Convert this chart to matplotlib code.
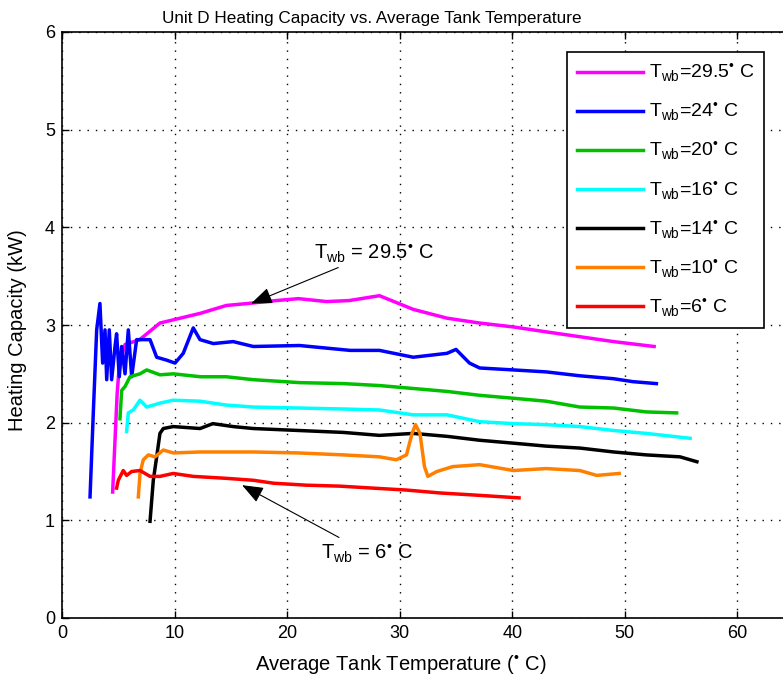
import matplotlib
matplotlib.use("Agg")
import matplotlib.pyplot as plt

plt.rcParams['font.family'] = ['Liberation Sans', 'DejaVu Sans']
plt.rcParams['mathtext.fontset'] = 'custom'
plt.rcParams['mathtext.rm'] = 'Liberation Sans'

# ---- data ----
x_295 = [4.5, 4.7, 4.9, 5.1, 5.6, 6.9, 8.7, 10.5, 12.3, 14.6, 16.5, 19.0, 21.0, 23.5, 25.5, 28.2,
         31.2, 34.2, 37.1, 40.1, 43.0, 46.0, 49.0, 52.6]
y_295 = [1.29, 1.8, 2.3, 2.6, 2.8, 2.85, 3.02, 3.07, 3.12, 3.20, 3.22, 3.25, 3.27, 3.24, 3.25, 3.30,
         3.16, 3.07, 3.02, 2.98, 2.93, 2.88, 2.83, 2.78]

x_24 = [2.49, 2.78, 3.08, 3.37, 3.61, 3.82, 3.97, 4.20, 4.41, 4.71, 4.85, 5.09, 5.30, 5.60, 5.89, 6.19,
        6.63, 7.82, 8.41, 9.30, 10.04, 10.77, 11.66, 12.26, 13.44, 15.21, 16.99, 21.1, 25.6, 28.2,
        31.2, 34.2, 35.0, 36.2, 37.1, 40.1, 43.0, 46.0, 49.0, 50.7, 52.8]
y_24 = [1.24, 2.10, 2.95, 3.22, 2.61, 2.95, 2.44, 2.95, 2.44, 2.78, 2.91, 2.47, 2.78, 2.50, 2.95, 2.47,
        2.85, 2.85, 2.67, 2.64, 2.61, 2.71, 2.97, 2.85, 2.81, 2.83, 2.78, 2.79, 2.74, 2.74,
        2.67, 2.71, 2.75, 2.61, 2.56, 2.54, 2.52, 2.48, 2.45, 2.42, 2.40]

x_20 = [5.15, 5.30, 5.6, 6.04, 6.93, 7.52, 8.7, 9.9, 12.3, 14.6, 17.0, 21.1, 25.0, 28.2, 31.2, 34.2,
        37.1, 40.1, 43.0, 46.0, 49.0, 51.9, 54.6]
y_20 = [2.04, 2.33, 2.37, 2.47, 2.50, 2.54, 2.49, 2.50, 2.47, 2.47, 2.44, 2.41, 2.40, 2.38, 2.35, 2.32,
        2.28, 2.25, 2.22, 2.16, 2.15, 2.11, 2.10]

x_16 = [5.74, 5.89, 6.33, 6.93, 7.52, 8.70, 9.88, 12.26, 14.6, 17.0, 21.0, 25.0, 28.2, 31.2, 34.2,
        37.1, 40.1, 43.0, 46.0, 49.0, 51.9, 55.8]
y_16 = [1.91, 2.10, 2.13, 2.23, 2.16, 2.20, 2.23, 2.22, 2.18, 2.16, 2.15, 2.14, 2.13, 2.08, 2.08,
        2.01, 1.99, 1.98, 1.96, 1.92, 1.89, 1.84]

x_14 = [7.82, 8.11, 8.41, 8.70, 9.0, 9.88, 12.26, 13.4, 15.2, 17.0, 21.0, 25.0, 28.2, 31.2, 34.2,
        37.1, 40.1, 43.0, 46.0, 49.0, 51.9, 54.9, 56.4]
y_14 = [0.99, 1.41, 1.65, 1.89, 1.94, 1.96, 1.94, 1.99, 1.96, 1.94, 1.92, 1.90, 1.87, 1.89, 1.86,
        1.82, 1.79, 1.76, 1.74, 1.70, 1.67, 1.65, 1.60]

x_10 = [6.78, 6.93, 7.22, 7.67, 8.26, 9.0, 9.88, 12.26, 14.6, 17.0, 21.0, 25.0, 28.2, 29.7, 30.6,
        31.1, 31.4, 31.8, 32.2, 32.5, 33.3, 34.7, 37.1, 40.1, 43.0, 46.0, 47.5, 49.5]
y_10 = [1.24, 1.48, 1.62, 1.67, 1.65, 1.72, 1.69, 1.70, 1.70, 1.70, 1.69, 1.67, 1.65, 1.62, 1.67,
        1.89, 1.98, 1.89, 1.55, 1.45, 1.50, 1.55, 1.57, 1.51, 1.53, 1.51, 1.46, 1.48]

x_6 = [4.85, 5.0, 5.44, 5.74, 6.19, 6.93, 7.82, 8.7, 9.88, 11.66, 14.6, 17.0, 18.8, 21.7, 24.7,
       27.6, 30.6, 33.6, 36.5, 40.6]
y_6 = [1.33, 1.41, 1.51, 1.46, 1.50, 1.51, 1.45, 1.45, 1.48, 1.45, 1.43, 1.41, 1.38, 1.36, 1.35,
       1.33, 1.31, 1.28, 1.26, 1.23]

series = [
    (x_295, y_295, '#ff00ff', '29.5'),
    (x_24, y_24, '#0000ff', '24'),
    (x_20, y_20, '#00c000', '20'),
    (x_16, y_16, '#00ffff', '16'),
    (x_14, y_14, '#000000', '14'),
    (x_10, y_10, '#ff8000', '10'),
    (x_6, y_6, '#ff0000', '6'),
]

xticks = [0, 10, 20, 30, 40, 50, 60]
yticks = [0, 1, 2, 3, 4, 5, 6]

DEG = '$^{\\mathregular{\u2022}}$'

W, H = 783, 681
fig = plt.figure(figsize=(W / 100, H / 100), dpi=100)
# axes in pixel coordinates: left 62, right 850 (cut off by the figure edge), top 32, bottom 618
ax = fig.add_axes([62 / W, (H - 618) / H, 788 / W, 586 / H])

for xs, ys, c, t in series:
    ax.plot(xs, ys, color=c, lw=2.5, label='T$_{\\mathregular{wb}}$=' + t + DEG + ' C')

ax.set_xlim(0, 70)
ax.set_ylim(0, 6)
ax.set_xticks(xticks)
ax.set_yticks(yticks)
ax.tick_params(direction='in', top=True, right=True, length=5, width=1, labelsize=13, pad=5)
ax.grid(True, color='black', linestyle=(0, (1, 5)), linewidth=1)
for s in ax.spines.values():
    s.set_linewidth(1.2)

leg = ax.legend(loc='upper left', bbox_to_anchor=((567 - 62) / 788, (618 - 52) / 586),
                borderaxespad=0, fontsize=14, frameon=True, fancybox=False,
                edgecolor='black', framealpha=1, labelspacing=0.84, handlelength=3.4,
                handletextpad=0.3, borderpad=0.5)
leg.get_frame().set_linewidth(1.2)

arrow = dict(arrowstyle='-|>,head_length=0.9,head_width=0.35', color='black', lw=0.8,
             shrinkA=2, shrinkB=0)
ax.annotate('T$_{\\mathregular{wb}}$ = 29.5' + DEG + ' C', xy=(16.8, 3.22), xytext=(22.4, 3.74),
            fontsize=14.5, va='center', ha='left', arrowprops=arrow)
ax.annotate('T$_{\\mathregular{wb}}$ = 6' + DEG + ' C', xy=(16.0, 1.36), xytext=(23.0, 0.67),
            fontsize=14.5, va='center', ha='left', arrowprops=arrow)

fig.text(372 / W, 1 - 18 / H, 'Unit D Heating Capacity vs. Average Tank Temperature',
         ha='center', va='center', fontsize=12.3)
fig.text(401 / W, 1 - 665 / H, 'Average Tank Temperature (' + DEG + ' C)',
         ha='center', va='center', fontsize=14.5)
fig.text(18 / W, 1 - 330 / H, 'Heating Capacity (kW)', ha='center', va='center',
         rotation=90, fontsize=14.5)

fig.savefig('out.png', dpi=100)
